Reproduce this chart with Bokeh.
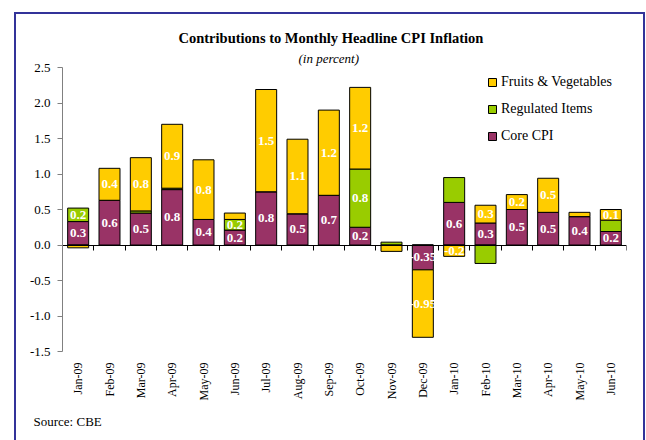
import math
import numpy as np
from bokeh.plotting import figure
from bokeh.models import (Range1d, FixedTicker, LinearAxis, NumeralTickFormatter,
                          ColumnDataSource, Legend, LegendItem, Title)
from bokeh.core.properties import value
from bokeh.embed import file_html
from bokeh.resources import INLINE

months = ["Jan-09", "Feb-09", "Mar-09", "Apr-09", "May-09", "Jun-09", "Jul-09", "Aug-09",
          "Sep-09", "Oct-09", "Nov-09", "Dec-09", "Jan-10", "Feb-10", "Mar-10", "Apr-10",
          "May-10", "Jun-10"]
core = [0.33, 0.63, 0.45, 0.78, 0.36, 0.21, 0.75, 0.44, 0.70, 0.25, 0.00, -0.35,
        0.60, 0.31, 0.50, 0.46, 0.40, 0.19]
regulated = [0.19, 0.00, 0.03, 0.02, 0.00, 0.15, 0.00, 0.00, 0.00, 0.82, 0.04, 0.00,
             0.35, -0.26, 0.00, 0.00, 0.00, 0.16]
fruits = [-0.04, 0.45, 0.75, 0.90, 0.84, 0.09, 1.44, 1.05, 1.20, 1.15, -0.09, -0.95,
          -0.16, 0.25, 0.21, 0.48, 0.06, 0.15]
core_labels = ["0.3", "0.6", "0.5", "0.8", "0.4", "0.2", "0.8", "0.5", "0.7", "0.2", "", "-0.35",
               "0.6", "0.3", "0.5", "0.5", "0.4", "0.2"]
regulated_labels = ["0.2", "", "", "", "", "0.2", "", "", "", "0.8", "", "",
                    "", "", "", "", "", ""]
fruits_labels = ["", "0.4", "0.8", "0.9", "0.8", "", "1.5", "1.1", "1.2", "1.2", "", "-0.95",
                 "-0.2", "0.3", "0.2", "0.5", "", "0.1"]
y_ticks = [-1.5, -1.0, -0.5, 0.0, 0.5, 1.0, 1.5, 2.0, 2.5]

SERIF = "Liberation Serif"
BORDER = "#333399"
COLORS = {"core": "#993366", "reg": "#99CC00", "fv": "#FFCC00"}
NAMES = {"core": "Core CPI", "reg": "Regulated Items", "fv": "Fruits & Vegetables"}

n = len(months)
xc = np.arange(n) + 0.5

shadow = ", ".join([
    "inset 14px 0 0 0 white", "inset 0 12px 0 0 white", "inset -1px 0 0 0 white",
    f"inset 16px 0 0 0 {BORDER}", f"inset 0 14px 0 0 {BORDER}", f"inset -3px 0 0 0 {BORDER}",
])

p = figure(width=646, height=440, output_backend="svg", toolbar_location=None,
           x_range=Range1d(0, n), y_range=Range1d(y_ticks[0], y_ticks[-1]),
           min_border_left=62, min_border_right=20, min_border_top=67, min_border_bottom=89,
           x_axis_type=None, y_axis_type=None,
           styles={"background-color": "white", "box-shadow": shadow})
p.outline_line_color = None
p.xgrid.visible = False
p.ygrid.visible = False
p.background_fill_color = None
p.border_fill_color = None

# titles (nearest to the frame first)
p.add_layout(Title(text="(in percent)", text_font=SERIF, text_font_style="italic",
                   text_font_size="13px", align="left", offset=236, standoff=3,
                   text_color="black"), "above")
p.add_layout(Title(text="Contributions to Monthly Headline CPI Inflation", text_font=SERIF,
                   text_font_style="bold", text_font_size="14.5px", align="left",
                   offset=116, standoff=3, text_color="black"), "above")

# y axis
yax = LinearAxis(ticker=FixedTicker(ticks=y_ticks), formatter=NumeralTickFormatter(format="0.0"))
yax.axis_line_color = "#808080"
yax.major_tick_line_color = "#808080"
yax.major_tick_out = 5
yax.major_tick_in = 0
yax.minor_tick_line_color = None
yax.major_label_standoff = 7
yax.major_label_text_font = SERIF
yax.major_label_text_font_size = "13px"
yax.major_label_text_color = "black"
p.add_layout(yax, "left")

# zero line axis with category separators
zax = LinearAxis(ticker=FixedTicker(ticks=list(range(n + 1))), fixed_location=0)
zax.axis_line_color = "black"
zax.major_tick_line_color = "black"
zax.major_tick_in = 5
zax.major_tick_out = 0
zax.minor_tick_line_color = None
zax.major_label_text_font_size = "0px"
zax.major_label_text_color = None
zax.major_label_standoff = 0
p.add_layout(zax, "above")

# category labels
xax = LinearAxis(ticker=FixedTicker(ticks=[float(v) for v in xc]),
                 major_label_overrides={float(x): m for x, m in zip(xc, months)})
xax.axis_line_color = None
xax.major_tick_line_color = None
xax.major_tick_out = 0
xax.major_tick_in = 0
xax.minor_tick_line_color = None
xax.major_label_orientation = math.pi / 2
xax.major_label_standoff = 11
xax.major_label_text_font = SERIF
xax.major_label_text_font_size = "12px"
xax.major_label_text_color = "black"
p.add_layout(xax, "below")

p.add_layout(Title(text="Source: CBE", text_font=SERIF, text_font_style="normal",
                   text_font_size="13px", align="left", offset=-29, standoff=16,
                   text_color="black"), "below")

# stacking with positive / negative accumulators
pos = np.zeros(n)
neg = np.zeros(n)
renderers = {}
label_x, label_y, label_t = [], [], []
for key, vals, labs in [("core", core, core_labels), ("reg", regulated, regulated_labels),
                        ("fv", fruits, fruits_labels)]:
    v = np.array(vals, dtype=float)
    bottom = np.where(v >= 0, pos, neg)
    top = bottom + v
    pos = np.where(v >= 0, pos + v, pos)
    neg = np.where(v < 0, neg + v, neg)
    src = ColumnDataSource(dict(x=xc, top=top, bottom=bottom))
    renderers[key] = p.vbar(x="x", top="top", bottom="bottom", width=0.67, source=src,
                            fill_color=COLORS[key], line_color="black", line_width=1)
    for i, t in enumerate(labs):
        if t:
            label_x.append(xc[i])
            label_y.append((bottom[i] + top[i]) / 2)
            label_t.append(t)

lsrc = ColumnDataSource(dict(x=label_x, y=label_y, t=label_t))
p.text(x="x", y="y", text="t", source=lsrc, text_color="white",
       text_font=value(SERIF), text_font_style="bold", text_font_size="13px",
       text_align="center", text_baseline="middle")

legend = Legend(items=[LegendItem(label=NAMES[k], renderers=[renderers[k]]) for k in ["fv", "reg", "core"]],
                location=(425, 207))
legend.glyph_width = 10
legend.glyph_height = 10
legend.label_height = 17
legend.spacing = 10
legend.padding = 0
legend.margin = 0
legend.label_standoff = 4
legend.label_text_font = SERIF
legend.label_text_font_size = "14px"
legend.label_text_color = "black"
legend.border_line_color = None
legend.background_fill_alpha = 0
p.add_layout(legend, "center")

open("out.html", "w").write(file_html(p, INLINE))
